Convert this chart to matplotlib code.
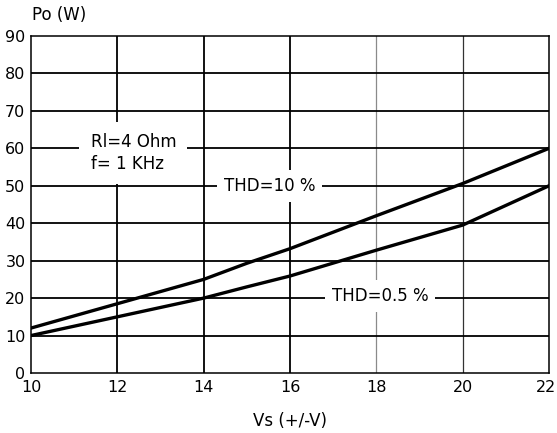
import matplotlib.pyplot as plt
from matplotlib.transforms import ScaledTranslation

vs = [10, 12, 14, 15, 16, 18, 20, 22]
po_thd10 = [12, 18.5, 25, 29.3, 33.2, 42, 50.6, 60]
po_thd05 = [10, 15, 20, 23, 25.9, 32.8, 39.5, 50]

x_ticks = [10, 12, 14, 16, 18, 20, 22]
y_ticks = [0, 10, 20, 30, 40, 50, 60, 70, 80, 90]

plt.rcParams["font.family"] = ["DejaVu Sans"]

fig = plt.figure(figsize=(5.57, 4.33), dpi=100)
ax = fig.add_axes([0.0557, 0.1386, 0.93, 0.7783])

# grid: 18 and 20 are thinner in the scan
for x in x_ticks[1:-1]:
    if x == 18:
        ax.axvline(x, color="#8a8a8a", lw=0.9, zorder=1)
    elif x == 20:
        ax.axvline(x, color="#333333", lw=0.9, zorder=1)
    else:
        ax.axvline(x, color="black", lw=1.3, zorder=1)
for y in y_ticks[1:-1]:
    ax.axhline(y, color="black", lw=1.3, zorder=1)

ax.plot(vs, po_thd10, color="black", lw=2.4, zorder=3)
ax.plot(vs, po_thd05, color="black", lw=2.4, zorder=3)

ax.text(11.38, 58.8, "Rl=4 Ohm\nf= 1 KHz", fontsize=12, ha="left", va="center",
        linespacing=1.25, bbox=dict(facecolor="white", edgecolor="none", pad=8), zorder=2)
ax.text(15.53, 50, "THD=10 %", fontsize=12, ha="center", va="center",
        bbox=dict(facecolor="white", edgecolor="none", pad=5), zorder=2)
ax.text(18.08, 20.6, "THD=0.5 %", fontsize=12, ha="center", va="center",
        bbox=dict(facecolor="white", edgecolor="none", pad=5), zorder=2)

ax.set_xlim(10, 22)
ax.set_ylim(0, 90)
ax.set_xticks(x_ticks)
ax.set_yticks(y_ticks)
ax.tick_params(axis="x", length=0, labelsize=11.5, pad=5)
ax.tick_params(axis="y", length=0, labelsize=11.5, pad=4)
for s in ax.spines.values():
    s.set_linewidth(1.1)

# keep the last x label inside the figure
last = ax.get_xticklabels()[-1]
last.set_horizontalalignment("right")
last.set_transform(last.get_transform() + ScaledTranslation(0.07, 0, fig.dpi_scale_trans))

ax.set_xlabel("Vs (+/-V)", fontsize=12, labelpad=12)
fig.text(0.058, 0.965, "Po (W)", fontsize=12, ha="left", va="center")

fig.savefig("out.png", dpi=100)
